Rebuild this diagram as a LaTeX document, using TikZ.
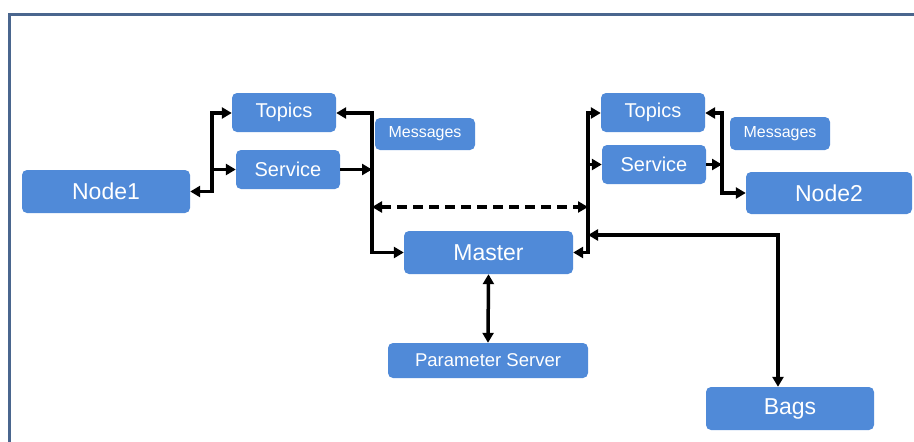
\documentclass[tikz,border=0pt]{standalone}
\usepackage{fontspec}
\setmainfont{Liberation Sans}
\usetikzlibrary{arrows.meta}

\definecolor{boxblue}{RGB}{80,138,216}
\definecolor{framec}{RGB}{74,102,142}

\tikzset{
  box/.style={draw=none, fill=boxblue, rounded corners=5pt, text=white,
              inner sep=0pt, anchor=center},
  bigbox/.style={box, minimum width=168pt, minimum height=43pt,
                 font=\fontsize{23}{23}\selectfont},
  midbox/.style={box, minimum width=104pt, minimum height=39pt,
                 font=\fontsize{20}{20}\selectfont},
  msgbox/.style={box, minimum width=100pt, minimum height=32pt,
                 font=\fontsize{16}{16}\selectfont},
  link/.style={line width=3.5pt, black, line join=miter},
  tip/.style={-{Triangle[length=10pt,width=11pt]}},
  tips/.style={{Triangle[length=10pt,width=11pt]}-{Triangle[length=10pt,width=11pt]}},
}

\begin{document}
\begin{tikzpicture}[x=1pt, y=-1pt]
  \useasboundingbox (0,0) rectangle (914,442);
  \fill[white] (0,0) rectangle (914,442);

  % slide frame
  \draw[framec, line width=3pt] (9,442) -- (9,14) -- (914,14);

  % boxes
  \node[bigbox] (n1) at (106,191.5) {Node1};
  \node[midbox] (t1) at (284,112.5) {Topics};
  \node[midbox] (s1) at (288,169.5) {Service};
  \node[msgbox] (m1) at (425,134) {Messages};
  \node[midbox] (t2) at (653,112.5) {Topics};
  \node[midbox] (s2) at (654,164.5) {Service};
  \node[msgbox, minimum height=33pt] (m2) at (780,133.5) {Messages};
  \node[bigbox, minimum width=166pt, minimum height=42pt] (n2) at (829,193) {Node2};
  \node[bigbox, minimum width=169pt] (ma) at (488.5,252.5) {Master};
  \node[box, minimum width=200pt, minimum height=35pt,
        font=\fontsize{18.5}{18.5}\selectfont] (ps) at (488,360.5) {Parameter Server};
  \node[bigbox] (bg) at (790,408.5) {Bags};

  % bus junctions
  \coordinate (lb) at (212,113);
  \coordinate (ml) at (372,113);
  \coordinate (mr) at (588,113);
  \coordinate (rr) at (722,113);
  \coordinate (dl) at (372,207);
  \coordinate (dr) at (588,207);
  \coordinate (bk) at (778,235);

  % Node1 side
  \draw[link, tips] (n1.east) -| (lb) -- (lb -| t1.west);
  \draw[link, tip] (lb |- s1.west) -- (s1.west);

  % left topics/service to master
  \draw[link, tips] (t1.east |- ml) -- (ml) |- (ma.west);
  \draw[link, tip] (s1.east) -- (ml |- s1.east);

  % dashed peer link
  \draw[link, tips, dash pattern=on 10pt off 6pt] (dl) -- (dr);

  % right bus to master
  \draw[link, tips] (t2.west |- mr) -- (mr) |- (ma.east);
  \draw[link, tip] (mr |- s2.west) -- (s2.west);

  % bags
  \draw[link, tips] (mr |- bk) -- (bk) -- (bk |- bg.north);

  % Node2 side
  \draw[link, tips] (t2.east |- rr) -- (rr) |- (n2.west);
  \draw[link, tip] (s2.east) -- (rr |- s2.east);

  % master to parameter server
  \draw[link, tips] (ma.south) -- (ps.north);
\end{tikzpicture}
\end{document}
